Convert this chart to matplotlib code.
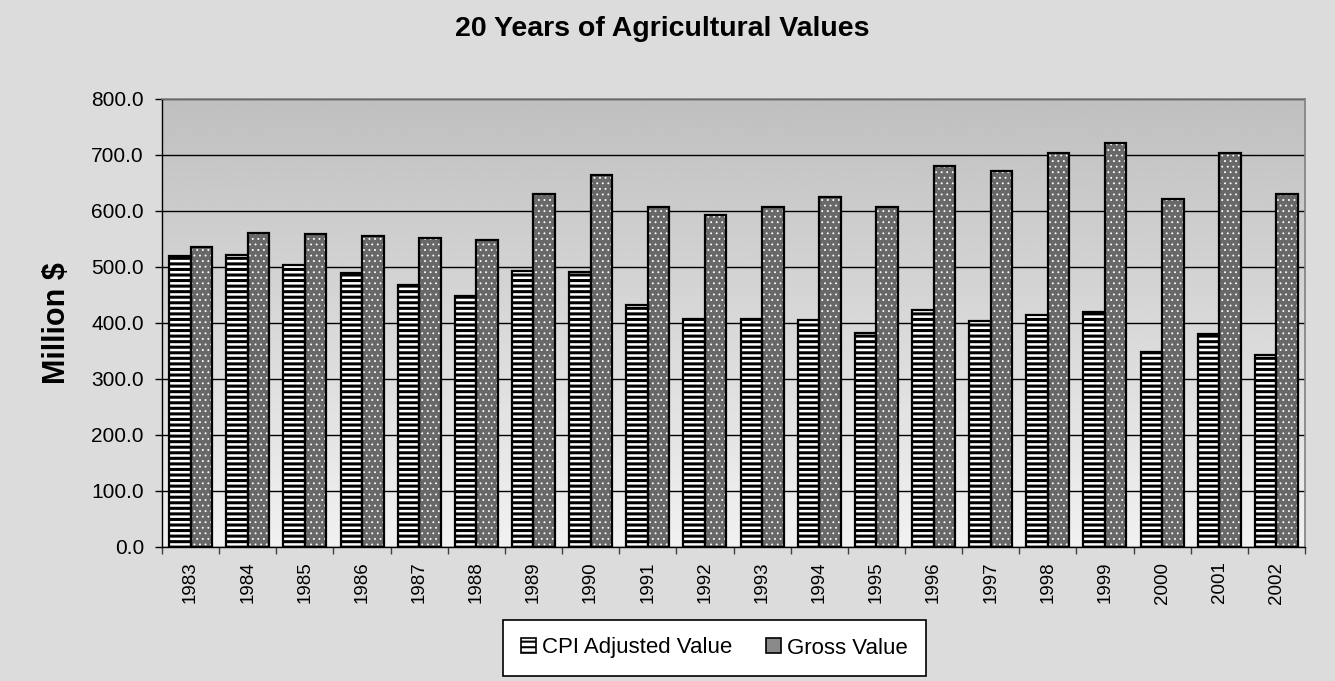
import numpy as np
import matplotlib
matplotlib.use("Agg")
import matplotlib.pyplot as plt
from matplotlib.patches import Patch

# data
years = [1983, 1984, 1985, 1986, 1987, 1988, 1989, 1990, 1991, 1992,
         1993, 1994, 1995, 1996, 1997, 1998, 1999, 2000, 2001, 2002]
cpi_adjusted = [519, 521, 503, 489, 468, 449, 492, 491, 432, 408,
                407, 406, 383, 423, 403, 415, 420, 348, 380, 342]
gross_value = [535, 560, 559, 556, 551, 548, 630, 664, 608, 592,
               608, 625, 608, 681, 672, 703, 722, 621, 704, 631]
y_ticks = [0, 100, 200, 300, 400, 500, 600, 700, 800]

plt.rcParams['font.family'] = ['Liberation Sans', 'DejaVu Sans']

fig = plt.figure(figsize=(13.35, 6.81), dpi=100)
fig.patch.set_facecolor('#dcdcdc')

ax = fig.add_axes([162 / 1335, 1 - 547 / 681, 1143 / 1335, 448 / 681])
ax.set_facecolor('none')

x = np.arange(len(years))
w = 0.376

# gradient plot area background
grad = np.linspace(0.75, 0.945, 256).reshape(-1, 1)
ax.imshow(grad, extent=[-0.5, len(years) - 0.5, 0, 800], aspect='auto',
          cmap='gray', vmin=0, vmax=1, origin='upper', zorder=0)

# CPI bars: white with black horizontal stripes
plt.rcParams['hatch.linewidth'] = 2.2
cpi = ax.bar(x - w / 2, cpi_adjusted, w, color='white', edgecolor='black',
             hatch='---', linewidth=0, zorder=2)
# Gross bars: dark grey with white dots
plt.rcParams['hatch.linewidth'] = 0.6
gross = ax.bar(x + w / 2, gross_value, w, color='#686868', edgecolor='white',
               hatch='...', linewidth=0, zorder=2)
# black outlines
ax.bar(x - w / 2, cpi_adjusted, w, fill=False, edgecolor='black', linewidth=1.6, zorder=3)
ax.bar(x + w / 2, gross_value, w, fill=False, edgecolor='black', linewidth=1.6, zorder=3)

ax.set_xlim(-0.5, len(years) - 0.5)
ax.set_ylim(0, 800)
ax.set_yticks(y_ticks)
ax.set_yticklabels([f"{v:.1f}" for v in y_ticks], fontsize=15)
ax.set_xticks(x)
ax.set_xticklabels([str(y) for y in years], rotation=90, fontsize=13.5)
ax.set_xticks(np.arange(-0.5, len(years)), minor=True)
ax.tick_params(axis='x', which='major', length=0, pad=10.5)
ax.tick_params(axis='x', which='minor', length=5, width=1, direction='out', color='#404040')
ax.tick_params(axis='y', length=5, width=1, direction='out', pad=8)

ax.yaxis.grid(True, color='black', linewidth=1)
ax.set_axisbelow(True)

for s in ['left', 'bottom']:
    ax.spines[s].set_color('black')
    ax.spines[s].set_linewidth(1)
for s in ['top', 'right']:
    ax.spines[s].set_color('#808080')
    ax.spines[s].set_linewidth(1.2)

fig.text(662 / 1335, 1 - 29 / 681, "20 Years of Agricultural Values",
         ha='center', va='center', fontsize=20.5, fontweight='bold')
fig.text(57 / 1335, 1 - 323 / 681, "Million $", rotation=90,
         ha='center', va='center', fontsize=22, fontweight='bold')

plt.rcParams['hatch.linewidth'] = 1.5
h1 = Patch(facecolor='white', edgecolor='black', hatch='---', linewidth=1.2,
           label='CPI Adjusted Value')
h2 = Patch(facecolor='#8a8a8a', edgecolor='black', linewidth=1.2,
           label='Gross Value')
leg = fig.legend(handles=[h1, h2], loc='center', ncol=2,
                 bbox_to_anchor=(714.5 / 1335, 1 - 648 / 681),
                 fontsize=16, frameon=True, fancybox=False,
                 handlelength=0.68, handleheight=0.68, handletextpad=0.27,
                 columnspacing=1.5, borderpad=0.8)
leg.get_frame().set_edgecolor('black')
leg.get_frame().set_facecolor('white')
leg.get_frame().set_linewidth(1.2)
leg.get_frame().set_alpha(1)

fig.savefig('out.png', dpi=100, facecolor=fig.get_facecolor())
